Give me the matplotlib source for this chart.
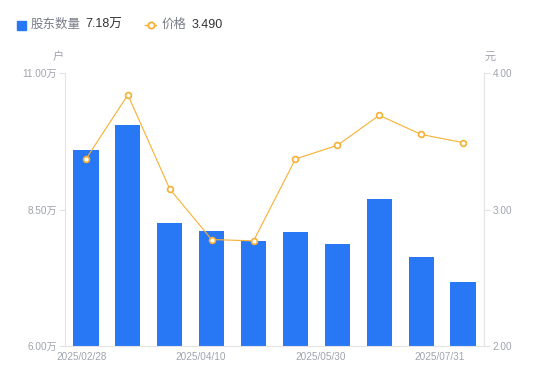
import matplotlib
matplotlib.use("Agg")
import matplotlib.pyplot as plt
from matplotlib.lines import Line2D
from matplotlib.patches import Rectangle

plt.rcParams['font.family'] = ['Liberation Sans', 'Noto Sans CJK SC', 'DejaVu Sans']

holders = [9.59, 10.05, 8.25, 8.11, 7.92, 8.09, 7.87, 8.69, 7.63, 7.18]  # 万户
price = [3.37, 3.84, 3.15, 2.78, 2.77, 3.37, 3.47, 3.69, 3.55, 3.49]
tick_labels = ["2025/02/28", "2025/04/10", "2025/05/30", "2025/07/31"]
tick_pos = [-0.1, 2.75, 5.6, 8.45]
left_ticks = [6.0, 8.5, 11.0]
right_ticks = [2.0, 3.0, 4.0]

BLUE = "#2878F5"
ORANGE = "#F7B032"
GRAY = "#A0A3AE"
AXC = "#E3E3E3"

fig = plt.figure(figsize=(5.5, 3.81), dpi=100)
ax = fig.add_axes([65/550, 35/381, 419/550, 273/381])
x = list(range(len(holders)))
ax.bar(x, holders, width=0.6, color=BLUE, zorder=2)
ax.set_xlim(-0.5, len(holders) - 0.5)
ax.set_ylim(6, 11)
ax.set_yticks(left_ticks)
ax.set_yticklabels([f"{v:.2f}万" for v in left_ticks])
ax.set_xticks(tick_pos)
ax.set_xticklabels(tick_labels)
ax.tick_params(axis='x', length=0, colors=GRAY, labelsize=7.2, pad=4)
ax.tick_params(axis='y', length=4, color=AXC, colors=GRAY, labelsize=7.2, pad=2)
for s in ['top', 'right']:
    ax.spines[s].set_visible(False)
for s in ['left', 'bottom']:
    ax.spines[s].set_color(AXC)
    ax.spines[s].set_linewidth(0.8)

ax2 = ax.twinx()
ax2.plot(x, price, color=ORANGE, lw=0.8, marker='o', ms=4.2, mfc='white',
         mec=ORANGE, mew=1.2, zorder=3)
ax2.set_ylim(2, 4)
ax2.set_yticks(right_ticks)
ax2.set_yticklabels([f"{v:.2f}" for v in right_ticks])
ax2.tick_params(axis='y', length=4, color=AXC, colors=GRAY, labelsize=7.2, pad=2)
for s in ['top', 'left', 'bottom']:
    ax2.spines[s].set_visible(False)
ax2.spines['right'].set_color(AXC)
ax2.spines['right'].set_linewidth(0.8)

fig.text(58/550, 1 - 57/381, "户", color=GRAY, fontsize=8, ha='center', va='center')
fig.text(490/550, 1 - 57/381, "元", color=GRAY, fontsize=8, ha='center', va='center')

# legend
LY = 1 - 25/381
fig.patches.append(Rectangle((17/550, LY - 4.5/381), 9/550, 9/381, transform=fig.transFigure,
                             color=BLUE, figure=fig))
fig.text(31/550, LY, "股东数量", color="#7A7D88", fontsize=9, va='center')
fig.text(85/550, LY, f"{holders[-1]:.2f}万", color="#333333", fontsize=9, va='center')
fig.lines.append(Line2D([145/550, 156/550], [LY, LY], transform=fig.transFigure,
                        color=ORANGE, lw=1))
fig.lines.append(Line2D([150.5/550], [LY], transform=fig.transFigure,
                        color=ORANGE, marker='o', ms=4.5, mfc='white', mew=1.3, lw=0))
fig.text(162/550, LY, "价格", color="#7A7D88", fontsize=9, va='center')
fig.text(192/550, LY, f"{price[-1]:.3f}", color="#333333", fontsize=9, va='center')

fig.savefig("out.png", dpi=100)
